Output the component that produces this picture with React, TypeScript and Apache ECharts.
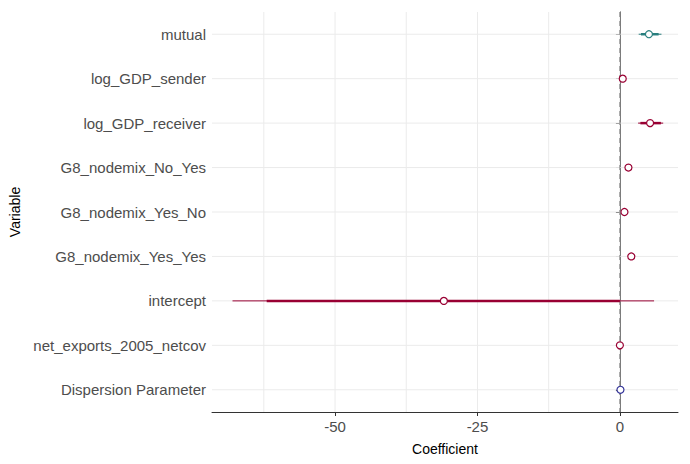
import React, { useEffect, useRef } from "react";
import * as echarts from "echarts";

const variables = ["mutual","log_GDP_sender","log_GDP_receiver","G8_nodemix_No_Yes","G8_nodemix_Yes_No","G8_nodemix_Yes_Yes","intercept","net_exports_2005_netcov","Dispersion Parameter"];
const estimates = [5.1, 0.5, 5.3, 1.5, 0.8, 2.0, -30.9, 0.0, 0.1];
const innerLow = [3.7, 0.4, 3.6, 1.4, 0.7, 1.9, -62.0, -0.1, 0.0];
const innerHigh = [6.8, 0.6, 7.2, 1.6, 0.9, 2.1, 0.0, 0.1, 0.2];
const outerLow = [3.3, 0.3, 3.2, 1.3, 0.6, 1.8, -68.0, -0.2, -0.1];
const outerHigh = [7.3, 0.7, 7.6, 1.7, 1.0, 2.2, 6.0, 0.2, 0.3];
const colors = ["#2a7f7f","#990033","#990033","#990033","#990033","#990033","#990033","#990033","#333399"];
const tickValues = [-50, -25, 0];
const gridValues = [-62.5, -50, -37.5, -25, -12.5, 0, 12.5];

export default function App() {
  const ref = useRef<HTMLDivElement>(null);
  useEffect(() => {
    const chart = echarts.init(ref.current!, null, { renderer: "svg" });
    const data = variables.map((v, i) => [i, estimates[i], innerLow[i], innerHigh[i], outerLow[i], outerHigh[i]]);
    const font = "Liberation Sans, Arial, sans-serif";
    chart.setOption({
      animation: false,
      grid: { left: 204, right: 4, top: 4, bottom: 44, outerBoundsMode: "none", containLabel: false },
      xAxis: {
        type: "value", min: -71.6, max: 10.2,
        name: "Coefficient", nameLocation: "middle", nameGap: 30,
        nameTextStyle: { color: "#000", fontSize: 14, fontFamily: font },
        axisLine: { show: true, lineStyle: { color: "#333" } },
        axisTick: { show: true, customValues: tickValues, length: 4, lineStyle: { color: "#333" } },
        axisLabel: { customValues: tickValues, color: "#4d4d4d", fontSize: 15, fontFamily: font, margin: 7 },
        splitLine: { show: false },
      },
      yAxis: {
        type: "category", data: variables, inverse: true,
        name: "Variable", nameLocation: "middle", nameGap: 190, nameRotate: 90,
        nameTextStyle: { color: "#000", fontSize: 14, fontFamily: font },
        axisLine: { show: true, lineStyle: { color: "#333" } },
        axisTick: { show: true, alignWithLabel: true, length: 4, lineStyle: { color: "#333" } },
        axisLabel: { color: "#4d4d4d", fontSize: 15, fontFamily: font, margin: 6 },
        splitLine: { show: false },
      },
      series: [
        {
          type: "custom", z: 1, silent: true,
          data: gridValues.map((g) => [g]),
          renderItem: (params: any, api: any) => {
            const cs = params.coordSys;
            const x = api.coord([api.value(0), 0])[0];
            return { type: "line", shape: { x1: x, y1: cs.y, x2: x, y2: cs.y + cs.height }, style: { stroke: "#ebebeb", lineWidth: 1 } };
          },
        },
        {
          type: "custom", z: 2, silent: true,
          data: variables.map((v, i) => [i]),
          renderItem: (params: any, api: any) => {
            const cs = params.coordSys;
            const y = api.coord([0, api.value(0)])[1];
            return { type: "line", shape: { x1: cs.x, y1: y, x2: cs.x + cs.width, y2: y }, style: { stroke: "#ebebeb", lineWidth: 1 } };
          },
        },
        {
          type: "custom", z: 3, silent: true,
          data: [[0]],
          renderItem: (params: any, api: any) => {
            const cs = params.coordSys;
            const x = api.coord([0, 0])[0];
            return { type: "line", shape: { x1: x, y1: cs.y, x2: x, y2: cs.y + cs.height }, style: { stroke: "#7f7f7f", lineWidth: 1, lineDash: [5, 4] } };
          },
        },
        {
          type: "custom", z: 5,
          data,
          encode: { x: [1, 2, 3, 4, 5], y: 0 },
          renderItem: (params: any, api: any) => {
            const i = api.value(0);
            const c = colors[i];
            const p = api.coord([api.value(1), i]);
            const il = api.coord([api.value(2), i]);
            const ih = api.coord([api.value(3), i]);
            const ol = api.coord([api.value(4), i]);
            const oh = api.coord([api.value(5), i]);
            return {
              type: "group",
              children: [
                { type: "line", shape: { x1: ol[0], y1: p[1], x2: oh[0], y2: p[1] }, style: { stroke: c, lineWidth: 1 } },
                { type: "line", shape: { x1: il[0], y1: p[1], x2: ih[0], y2: p[1] }, style: { stroke: c, lineWidth: 2.5 } },
                { type: "circle", shape: { cx: p[0], cy: p[1], r: 3.5 }, style: { fill: "#fff", stroke: c, lineWidth: 1.2 } },
              ],
            };
          },
        },
      ],
    });
    return () => chart.dispose();
  }, []);
  return <div ref={ref} style={{ width: 674, height: 448 }} />;
}
